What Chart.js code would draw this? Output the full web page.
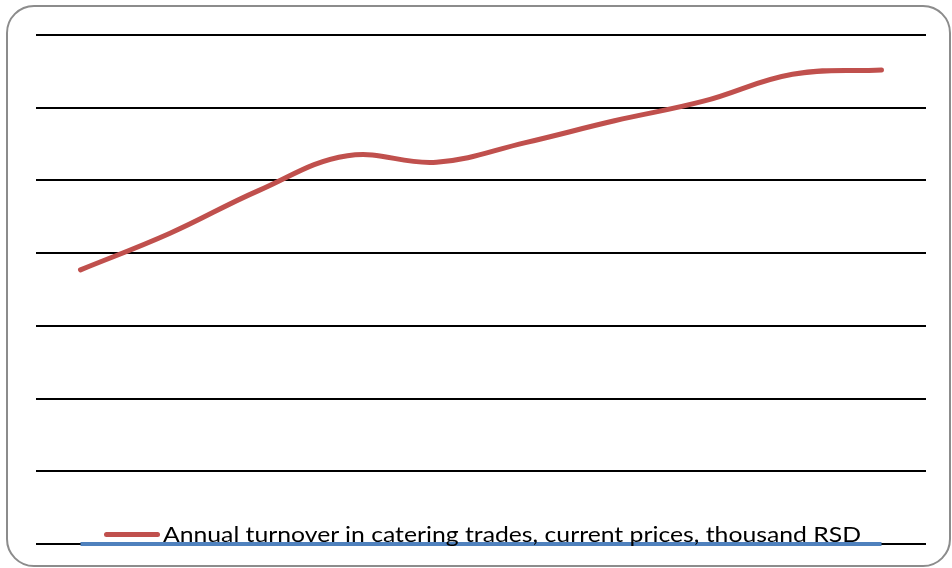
<!DOCTYPE html>
<html>
<head>
<meta charset="utf-8">
<script src="https://cdn.jsdelivr.net/npm/chart.js@4"></script>
<style>
  html, body { margin: 0; padding: 0; background: #fff; }
  #wrap { position: relative; width: 952px; height: 568px; overflow: hidden; }
  #frame { position: absolute; left: 6px; top: 5px; width: 941px; height: 558px;
           border: 2px solid #8c8c8c; border-radius: 28px; box-sizing: content-box; pointer-events: none; }
  canvas { position: absolute; left: 0; top: 0; }
  #legend { position: absolute; left: 104px; top: 520px; height: 30px; white-space: nowrap; }
  #legend .swatch { position: absolute; left: 0; top: 12px; width: 56px; height: 5px;
                    background: #C0504D; border-radius: 3px; }
  #legend .txt { position: absolute; left: 59px; top: 1px; font-family: Lato, "Open Sans", sans-serif;
                 font-size: 22px; line-height: 26px; color: #000; transform-origin: 0 0; }
</style>
</head>
<body>
<div id="wrap">
  <canvas id="c" width="952" height="568"></canvas>
  <div id="frame"></div>
  <div id="legend"><span class="swatch"></span><span class="txt" id="ltxt"></span></div>
</div>
<script>
// Data (arbitrary units; gridlines every 10)
const categories = ["1", "2", "3", "4", "5", "6", "7", "8", "9", "10"];
const turnover = [37.7, 42.7, 48.6, 53.4, 52.5, 55.2, 58.2, 60.9, 64.6, 65.2];
const baseline = [0, 0, 0, 0, 0, 0, 0, 0, 0, 0];
const seriesName = "Annual turnover in catering trades, current prices, thousand RSD";
const yTicks = [0, 10, 20, 30, 40, 50, 60, 70];

document.getElementById('ltxt').textContent = seriesName;

new Chart(document.getElementById('c'), {
  type: 'line',
  data: {
    labels: categories,
    datasets: [
      {
        label: seriesName,
        data: turnover,
        borderColor: '#C0504D',
        borderWidth: 5,
        borderCapStyle: 'round',
        borderJoinStyle: 'round',
        tension: 0.4,
        pointRadius: 0,
        fill: false,
        clip: 10,
        order: 1
      },
      {
        label: '',
        data: baseline,
        borderColor: '#4F81BD',
        borderWidth: 4,
        tension: 0,
        pointRadius: 0,
        fill: false,
        clip: 10,
        order: 2
      }
    ]
  },
  options: {
    responsive: false,
    animation: false,
    events: [],
    layout: { padding: { left: 36, right: 26, top: 35, bottom: 24 } },
    plugins: { legend: { display: false }, tooltip: { enabled: false } },
    scales: {
      x: { display: false, offset: true },
      y: {
        display: true,
        min: yTicks[0],
        max: yTicks[yTicks.length - 1],
        afterBuildTicks: (axis) => { axis.ticks = yTicks.map(v => ({ value: v })); },
        ticks: { display: false },
        border: { display: false },
        grid: { color: '#000', lineWidth: 2, drawTicks: false }
      }
    }
  }
});

// fit legend text to the reference width
(function () {
  const el = document.getElementById('ltxt');
  const w = el.getBoundingClientRect().width;
  const target = 698;
  if (w > 0) el.style.transform = 'scaleX(' + (target / w) + ')';
})();
</script>
</body>
</html>
